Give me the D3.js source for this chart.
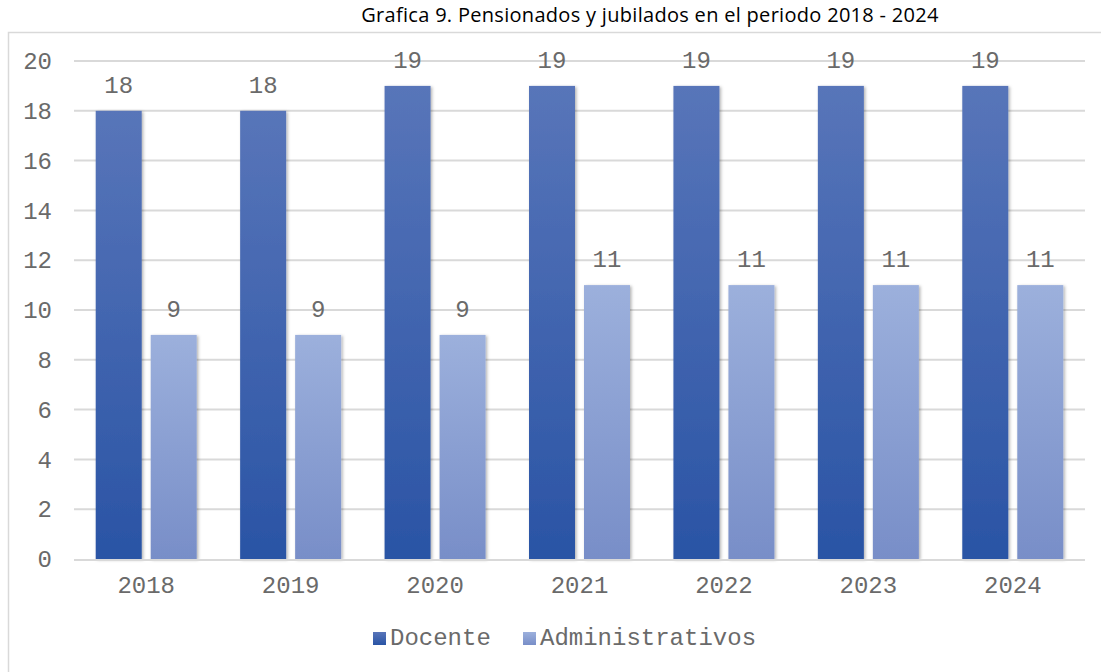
<!DOCTYPE html>
<html>
<head>
<meta charset="utf-8">
<script src="https://cdn.jsdelivr.net/npm/d3@7"></script>
<style>
  body { margin: 0; background: #fff; }
  text { font-family: "Liberation Mono", "DejaVu Sans Mono", monospace; fill: #6a6a6a; }
</style>
</head>
<body>
<div id="chart"></div>
<script>
// data
const years = ["2018", "2019", "2020", "2021", "2022", "2023", "2024"];
const docente = [18, 18, 19, 19, 19, 19, 19];
const administrativos = [9, 9, 9, 11, 11, 11, 11];
const seriesNames = ["Docente", "Administrativos"];
const yTicks = [0, 2, 4, 6, 8, 10, 12, 14, 16, 18, 20];

const width = 1101, height = 672;
const plot = { left: 74, right: 1085, top: 61, bottom: 559 };

const svg = d3.select("#chart").append("svg")
  .attr("width", width)
  .attr("height", height);

const defs = svg.append("defs");
// gradients for the two series
const grads = [
  { id: "gDoc", top: "#5875b9", bottom: "#2a54a5" },
  { id: "gAdm", top: "#9cb0dc", bottom: "#788ec8" }
];
grads.forEach(g => {
  const lg = defs.append("linearGradient")
    .attr("id", g.id)
    .attr("x1", 0).attr("y1", 0).attr("x2", 0).attr("y2", 1);
  lg.append("stop").attr("offset", "0%").attr("stop-color", g.top);
  lg.append("stop").attr("offset", "100%").attr("stop-color", g.bottom);
});
const shadow = defs.append("filter").attr("id", "shadow")
  .attr("x", "-20%").attr("y", "-5%").attr("width", "150%").attr("height", "115%");
shadow.append("feDropShadow")
  .attr("dx", 1.5).attr("dy", 1).attr("stdDeviation", 1.8)
  .attr("flood-color", "#000").attr("flood-opacity", 0.3);

// outer frame
svg.append("rect")
  .attr("x", 8.5).attr("y", 32.5)
  .attr("width", 1100).attr("height", 660)
  .attr("fill", "none").attr("stroke", "#d9d9d9").attr("stroke-width", 1.5);

// title
svg.append("text")
  .attr("x", 650).attr("y", 22)
  .attr("text-anchor", "middle")
  .style("font-family", "'Open Sans', 'Noto Sans', sans-serif")
  .style("font-size", "20px")
  .style("letter-spacing", "0.3px")
  .style("fill", "#000")
  .text("Grafica 9. Pensionados y jubilados en el periodo 2018 - 2024");

const x = d3.scaleBand()
  .domain(years)
  .range([plot.left, plot.right]);

const y = d3.scaleLinear()
  .domain([0, 20])
  .range([plot.bottom, plot.top]);

// gridlines
svg.append("g")
  .selectAll("line")
  .data(yTicks.filter(t => t > 0))
  .join("line")
  .attr("x1", plot.left).attr("x2", plot.right)
  .attr("y1", d => y(d)).attr("y2", d => y(d))
  .attr("stroke", "#d9d9d9").attr("stroke-width", 2);

// y axis labels
const yAxis = svg.append("g")
  .attr("transform", `translate(${plot.left - 22},0)`)
  .call(d3.axisLeft(y).tickValues(yTicks).tickSize(0).tickPadding(0));
yAxis.select(".domain").remove();
yAxis.selectAll("text")
  .style("font-size", "24px")
  .style("font-family", "'Liberation Mono', monospace")
  .attr("fill", "#6a6a6a");

// bars
const barW = 46, gap = 9;
const sub = d3.scaleOrdinal().domain(seriesNames)
  .range([-(barW + gap) / 2, (barW + gap) / 2]);

const rows = years.map((yr, i) => ({ yr, vals: [docente[i], administrativos[i]] }));

const groups = svg.append("g").selectAll("g")
  .data(rows)
  .join("g")
  .attr("transform", d => `translate(${x(d.yr) + x.bandwidth() / 2},0)`);

groups.selectAll("rect")
  .data(d => d.vals.map((v, k) => ({ k, v })))
  .join("rect")
  .attr("x", d => sub(seriesNames[d.k]) - barW / 2)
  .attr("y", d => y(d.v))
  .attr("width", barW)
  .attr("height", d => y(0) - y(d.v))
  .attr("fill", d => d.k === 0 ? "url(#gDoc)" : "url(#gAdm)")
  .attr("filter", "url(#shadow)");

groups.selectAll("text.val")
  .data(d => d.vals.map((v, k) => ({ k, v })))
  .join("text")
  .attr("class", "val")
  .attr("x", d => sub(seriesNames[d.k]))
  .attr("y", d => y(d.v) - 18)
  .attr("text-anchor", "middle")
  .style("font-size", "24px")
  .text(d => d.v);

// baseline
svg.append("line")
  .attr("x1", plot.left).attr("x2", plot.right)
  .attr("y1", y(0) + 1).attr("y2", y(0) + 1)
  .attr("stroke", "#d9d9d9").attr("stroke-width", 2);

// x axis labels
const xAxis = svg.append("g")
  .attr("transform", `translate(0,${plot.bottom + 34})`)
  .call(d3.axisBottom(x).tickSize(0).tickPadding(0));
xAxis.select(".domain").remove();
xAxis.selectAll("text")
  .attr("dy", "0")
  .style("font-size", "24px")
  .style("font-family", "'Liberation Mono', monospace")
  .attr("fill", "#6a6a6a");

// legend
const legend = svg.append("g");
const legendItems = [
  { name: seriesNames[0], fill: "url(#gDoc)", x: 373 },
  { name: seriesNames[1], fill: "url(#gAdm)", x: 523 }
];
legendItems.forEach(it => {
  legend.append("rect")
    .attr("x", it.x).attr("y", 632)
    .attr("width", 13).attr("height", 13)
    .attr("fill", it.fill);
  legend.append("text")
    .attr("x", it.x + 17).attr("y", 645)
    .style("font-size", "24px")
    .text(it.name);
});
</script>
</body>
</html>
